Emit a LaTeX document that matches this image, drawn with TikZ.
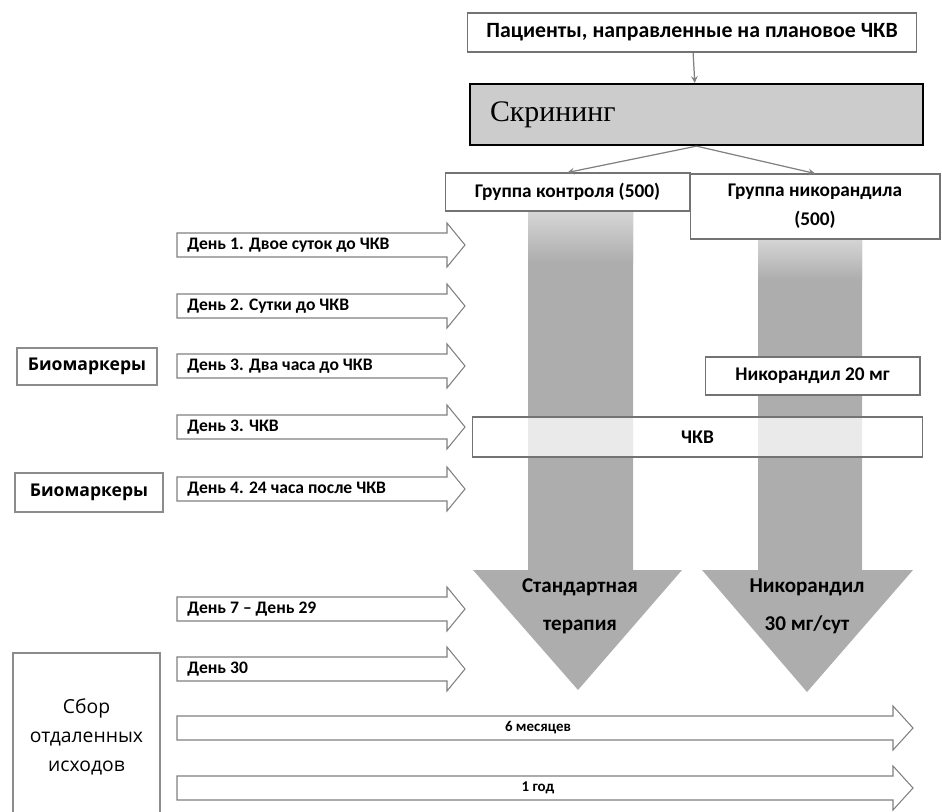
\documentclass[tikz,border=0pt]{standalone}
\usepackage{fontspec}
\setmainfont{Carlito}
\newfontfamily\scrfont{Liberation Serif}
\newfontfamily\sidefont{Open Sans}
\usetikzlibrary{arrows, positioning}

\begin{document}
\begin{tikzpicture}[
    x=0.02cm, y=-0.02cm,
    every node/.style={font=\bfseries\fontsize{11}{13}\selectfont},
    box/.style={rectangle, draw=black!55, fill=white, line width=0.6pt, inner sep=0pt, text centered},
    screenbox/.style={rectangle, draw=black, fill=black!20, line width=1.3pt, inner sep=0pt, inner xsep=0.4cm, text width=8.26cm, minimum height=1.22cm, align=left},
    sidebox/.style={rectangle, draw=black!45, fill=white, line width=0.8pt, inner sep=0pt, text centered},
    dayarrow/.style={draw=black!50, fill=white, line width=0.6pt, line join=miter},
    daytext/.style={font=\bfseries\fontsize{10}{12}\selectfont, inner sep=0pt},
    bigarrow/.style={fill=black!32},
    conn/.style={->, >=stealth, draw=black!50, line width=0.7pt}
]
\useasboundingbox (0,0) rectangle (942,811);

% Big gray arrows
\fill[bigarrow] (528,211) -- (633,211) -- (633,570) -- (682,570) -- (578,690) -- (473,570) -- (528,570) -- cycle;
\fill[bigarrow] (758,238) -- (862,238) -- (862,570) -- (913,570) -- (807,692) -- (702,570) -- (758,570) -- cycle;
\shade[top color=black!16, bottom color=black!32] (528,211) rectangle (633,262);
\shade[top color=black!16, bottom color=black!32] (758,238) rectangle (862,280);
\node (std) [align=center, font=\bfseries\fontsize{12}{21.5}\selectfont] at (580,606) {Стандартная\\терапия};
\node (nic30) [align=center, font=\bfseries\fontsize{12}{21.5}\selectfont] at (807,606) {Никорандил\\30 мг/сут};

% Boxes
\node (patients) [box, minimum width=9cm, minimum height=0.78cm, font=\bfseries\fontsize{12.4}{14}\selectfont] at (692,32.5) {Пациенты, направленные на плановое ЧКВ};
\node (screen) [screenbox, font=\scrfont\fontsize{17}{20}\selectfont] at (696.5,114.5) {Скрининг};
\node (ctrl) [box, minimum width=4.9cm, minimum height=0.76cm] at (567.5,192) {Группа контроля (500)};
\node (nico) [box, minimum width=5cm, minimum height=1.3cm, align=center, font=\bfseries\fontsize{11}{16.5}\selectfont] at (815,206.5) {Группа никорандила\\(500)};
\node (nic20) [box, minimum width=4.3cm, minimum height=0.76cm] at (812.5,376) {Никорандил 20 мг};
\node (pci) [box, fill opacity=0.75, text opacity=1, minimum width=9.02cm, minimum height=0.8cm] at (697.5,437) {ЧКВ};

\node (bio1) [sidebox, minimum width=2.8cm, minimum height=0.74cm, font=\sidefont\bfseries\fontsize{10}{12}\selectfont] at (87,366.5) {Биомаркеры};
\node (bio2) [sidebox, minimum width=2.96cm, minimum height=0.78cm, font=\sidefont\bfseries\fontsize{10}{12}\selectfont] at (89,492.5) {Биомаркеры};
\node (sbor) [sidebox, minimum width=2.94cm, minimum height=3.34cm, align=center, font=\sidefont\fontsize{11}{16.5}\selectfont] at (86.5,736.5) {Сбор\\отдаленных\\исходов};

% Connectors
\draw [conn] (patients) -- (screen);
\draw [conn] (screen.south) -- (ctrl.north);
\draw [conn] (screen.south) -- (nico.north);

% Time line arrows
\foreach \yc/\txt in {245/{День 1. Двое суток до ЧКВ}, 306/{День 2. Сутки до ЧКВ}, 366/{День 3. Два часа до ЧКВ}, 427/{День 3. ЧКВ}, 489/{День 4. 24 часа после ЧКВ}, 609/{День 7 – День 29}, 669/{День 30}} {
    \draw [dayarrow] (177,\yc-12) -- (447,\yc-12) -- (447,\yc-22) -- (465,\yc) -- (447,\yc+22) -- (447,\yc+12) -- (177,\yc+12) -- cycle;
    \node (day\yc) [daytext, anchor=west] at (187,\yc) {\txt};
}
\foreach \yc/\txt in {728/{6 месяцев}, 788/{1 год}} {
    \draw [dayarrow] (177,\yc-12) -- (893,\yc-12) -- (893,\yc-22) -- (913,\yc) -- (893,\yc+22) -- (893,\yc+12) -- (177,\yc+12) -- cycle;
    \node (long\yc) [daytext, font=\bfseries\fontsize{8.5}{10}\selectfont] at (538,\yc) {\txt};
}

\end{tikzpicture}
\end{document}
